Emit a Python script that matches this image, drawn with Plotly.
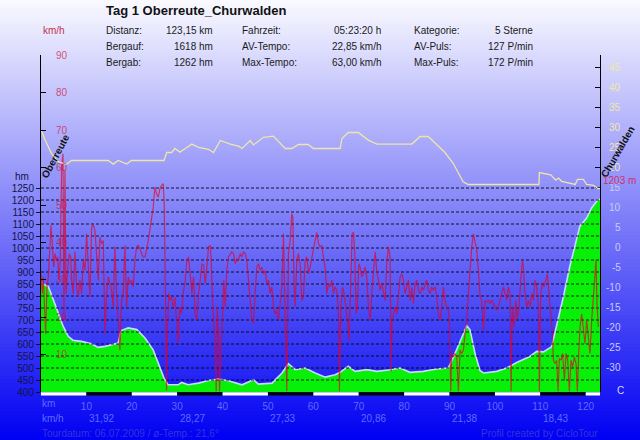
import plotly.graph_objects as go

# ---------------- data ----------------
title = "Tag 1 Oberreute_Churwalden"
info_c1_lab = ["Distanz:", "Bergauf:", "Bergab:"]
info_c1_val = ["123,15 km", "1618 hm", "1262 hm"]
info_c2_lab = ["Fahrzeit:", "AV-Tempo:", "Max-Tempo:"]
info_c2_val = ["05:23:20 h", "22,85 km/h", "63,00 km/h"]
info_c3_lab = ["Kategorie:", "AV-Puls:", "Max-Puls:"]
info_c3_val = ["5 Sterne", "127 P/min", "172 P/min"]

total_km = 123.15
start_name = "Oberreute"
end_name = "Churwalden"

elev_km = [0, 1.6, 2.7, 3.8, 4.9, 6.0, 7.1, 8.9, 11.1, 12.6, 14.1, 17.0, 17.4, 17.8, 19.2,
           21.1, 22.9, 24.7, 26.2, 27.1, 28.0, 30.2, 31.0, 32.4, 34.7, 36.9, 39.1, 41.3,
           44.3, 46.8, 47.9, 50.9, 53.1, 54.5, 56.0, 58.2, 60.4, 62.6, 64.8, 65.9, 67.7,
           69.2, 71.8, 74.0, 76.9, 79.1, 81.3, 84.2, 87.2, 89.7, 90.8, 92.3, 93.8, 94.5,
           95.6, 96.7, 97.5, 100.4, 102.6, 104.8, 107.7, 109.2, 110.7, 112.5, 113.6, 115.1,
           116.5, 118.0, 118.7, 120.2, 121.3, 122.7, 123.15]
elev_m = [854, 840, 785, 729, 673, 632, 615, 611, 601, 586, 590, 604, 640, 657, 667,
          660, 625, 576, 507, 458, 430, 430, 440, 430, 437, 448, 454, 447,
          430, 451, 433, 437, 479, 518, 493, 500, 479, 462, 472, 482, 507,
          486, 493, 486, 493, 500, 482, 486, 496, 500, 542, 611, 676, 660,
          562, 490, 479, 486, 500, 523, 548, 569, 567, 589, 673, 798,
          923, 1035, 1090, 1125, 1167, 1201, 1203]

temp_km = [0, 0.9, 2.3, 3.8, 5.6, 6.7, 14.8, 15.9, 17.0, 18.9, 19.9, 27.1, 27.7, 28.8, 29.5,
           30.6, 31.8, 33.2, 34.7, 36.9, 38.0, 39.5, 41.7, 43.5, 44.3, 46.1, 46.8, 49.0,
           51.2, 53.8, 55.3, 56.7, 58.9, 60.0, 65.9, 66.3, 67.7, 69.9, 72.1, 74.0, 81.7,
           83.5, 85.3, 87.2, 89.0, 90.8, 91.9, 93.0, 94.1, 109.7, 109.8, 112.3, 113.4,
           114.0, 114.7, 117.7, 118.2, 119.5, 120.2, 121.7, 122.7, 123.15]
temp_c = [29.4, 26.9, 23.6, 21.5, 20.8, 21.8, 21.8, 20.9, 21.8, 20.9, 21.8, 21.8, 23.8, 23.8, 24.8,
          23.9, 24.8, 25.9, 25.1, 24.6, 23.8, 26.8, 25.9, 25.4, 24.8, 26.8, 25.7, 27.6,
          27.9, 24.8, 24.8, 25.8, 25.8, 24.8, 24.8, 27.3, 28.8, 28.8, 26.9, 25.9, 25.9,
          27.8, 27.8, 25.7, 23.8, 21.1, 18.6, 16.5, 15.8, 15.8, 18.8, 18.2, 16.9,
          17.4, 16.6, 15.8, 17.1, 17.1, 15.8, 15.6, 14.8, 14.8]

# (km, km/h) samples of the speed trace
speed_points = [
    (0.0, 31.6), (0.29, 26.3), (0.51, 30.8), (0.73, 22.7), (1.02, 15.6), (1.31, 28.1), (1.61, 30.8),
    (1.97, 38.8), (2.19, 44.6), (2.49, 39.7), (2.78, 33.4), (3.08, 37.0), (3.37, 35.2), (3.66, 36.1),
    (3.96, 29.9), (4.25, 35.2), (4.54, 60.2), (4.84, 63.7), (5.06, 19.2), (5.28, 59.3), (5.50, 26.3),
    (5.86, 32.5), (6.23, 37.0), (6.52, 36.1), (6.75, 29.9), (7.11, 26.3), (7.48, 37.5), (7.85, 28.1),
    (8.21, 25.4), (8.58, 29.9), (8.95, 26.3), (9.31, 35.2), (9.68, 32.5), (10.05, 42.3), (10.41, 35.2),
    (10.78, 25.4), (11.15, 44.1), (11.52, 44.6), (11.88, 43.2), (12.25, 35.2), (12.62, 29.9),
    (12.98, 41.4), (13.35, 39.7), (13.72, 40.5), (14.08, 15.6), (14.45, 26.3), (14.82, 30.8),
    (15.19, 29.0), (15.55, 27.2), (15.92, 22.7), (16.29, 38.8), (16.65, 26.3), (17.02, 19.2),
    (17.39, 11.2), (17.75, 24.5), (18.12, 26.3), (18.49, 39.2), (18.85, 22.7), (19.22, 30.8),
    (19.59, 29.0), (19.96, 29.9), (20.32, 28.1), (20.69, 35.2), (21.06, 38.8), (21.42, 39.2),
    (21.79, 38.4), (22.16, 37.0), (22.52, 36.1), (22.89, 36.1), (23.26, 37.9), (23.62, 40.5),
    (23.99, 43.2), (24.36, 45.9), (24.73, 49.4), (25.09, 54.8), (25.46, 53.0), (25.83, 52.1),
    (26.19, 54.3), (26.56, 55.2), (26.93, 55.7), (27.15, 50.3), (27.44, 28.1), (27.66, 0.5),
    (27.88, 17.4), (28.17, 26.3), (28.47, 24.5), (28.76, 25.4), (29.13, 22.7), (29.49, 25.4),
    (29.86, 19.2), (30.23, 12.9), (30.59, 22.7), (30.96, 20.9), (31.33, 26.3),
    (31.77, 29.9), (32.14, 35.2), (32.51, 36.1), (32.87, 31.6), (33.24, 26.3), (33.61, 30.8),
    (33.97, 20.9), (34.34, 19.2), (34.71, 26.3), (35.08, 29.9), (35.44, 34.3), (35.81, 33.9),
    (36.17, 29.0), (36.54, 33.4), (36.91, 38.8), (37.27, 39.2), (37.49, 35.2), (37.79, 24.5),
    (38.08, 19.2), (38.38, 12.0), (38.60, 0.2), (38.82, 22.7), (39.11, 14.7), (39.33, 0.2),
    (39.62, 8.5), (39.99, 22.7), (40.28, 29.9), (40.58, 22.7), (40.94, 32.5), (41.31, 36.1),
    (41.68, 37.0), (42.04, 37.5), (42.41, 37.0), (42.78, 34.3), (43.15, 35.6), (43.51, 35.2),
    (43.88, 37.0), (44.25, 36.1), (44.61, 37.5), (44.98, 37.0), (45.35, 35.2), (45.71, 30.8),
    (46.08, 24.5), (46.45, 19.2), (46.81, 18.3), (47.18, 26.3), (47.55, 33.4), (47.92, 34.3),
    (48.28, 32.5), (48.65, 33.4), (49.02, 31.6), (49.38, 32.5), (49.75, 29.0), (50.12, 29.9),
    (50.48, 26.3), (50.85, 28.1), (51.22, 22.7), (51.59, 20.9), (51.95, 21.8), (52.32, 19.2),
    (52.69, 24.5), (53.05, 28.1), (53.42, 42.3), (53.79, 19.2), (54.15, 0.2), (54.52, 37.0),
    (54.89, 40.5), (55.26, 47.7), (55.48, 46.8), (55.77, 28.1), (55.99, 22.7), (56.36, 35.2),
    (56.72, 37.0), (57.09, 34.3), (57.46, 24.5), (57.82, 25.4), (58.19, 35.2), (58.56, 36.1),
    (58.93, 31.6), (59.29, 33.4), (59.66, 36.1), (60.03, 38.8), (60.39, 40.5), (60.76, 42.7),
    (61.13, 39.7), (61.49, 38.8), (61.86, 39.2), (62.23, 36.1), (62.59, 33.4), (62.96, 26.3),
    (63.33, 29.0),
    (63.70, 28.1), (64.07, 29.9), (64.43, 26.3), (64.80, 28.1), (65.17, 27.2), (65.53, 20.9),
    (65.75, 0.2), (66.05, 22.7), (66.42, 28.1), (66.78, 26.3), (67.15, 22.7), (67.52, 19.2),
    (67.88, 13.8), (68.25, 34.3), (68.54, 42.3), (68.84, 42.7), (69.13, 37.0), (69.42, 20.9),
    (69.72, 22.7), (70.01, 34.3), (70.31, 33.4), (70.67, 30.8), (71.04, 31.6), (71.41, 33.4),
    (71.77, 30.8), (72.14, 22.7), (72.51, 19.2), (72.87, 26.3), (73.24, 33.4), (73.61, 37.5),
    (73.97, 32.5), (74.34, 29.9), (74.71, 27.2), (75.08, 29.0), (75.44, 26.3), (75.81, 24.5),
    (76.18, 34.3), (76.54, 38.8), (76.91, 36.1), (77.13, 5.5), (77.35, 19.2), (77.64, 20.9),
    (78.01, 22.7), (78.38, 20.9), (78.74, 25.4), (79.11, 30.8), (79.48, 31.6), (79.85, 29.9),
    (80.21, 26.3), (80.58, 28.1), (80.95, 29.9), (81.31, 24.5), (81.68, 28.1), (82.05, 23.6),
    (82.41, 29.0), (82.78, 29.9), (83.15, 27.2), (83.52, 26.3), (83.88, 28.1), (84.25, 27.2),
    (84.62, 29.0), (84.98, 29.9), (85.35, 27.2), (85.72, 26.3), (86.08, 28.1), (86.45, 27.2),
    (86.82, 28.1), (87.18, 25.4), (87.55, 20.9), (87.92, 19.2), (88.29, 22.7), (88.65, 28.1),
    (89.02, 24.5), (89.39, 22.7), (89.75, 21.8), (89.97, 19.2), (90.27, 0.2), (90.49, 10.3),
    (90.85, 9.4), (91.22, 10.3), (91.59, 9.4), (91.96, 0.2), (92.32, 11.2), (92.69, 10.3),
    (93.06, 11.2), (93.42, 15.6), (93.79, 19.2), (94.16, 26.3),
    (94.53, 33.4), (94.90, 38.8), (95.26, 42.3), (95.63, 40.5), (96.00, 37.9), (96.36, 32.5),
    (96.73, 25.4), (97.10, 24.5), (97.47, 16.5), (97.83, 24.5), (98.20, 24.1), (98.57, 24.5),
    (98.93, 23.6), (99.30, 24.5), (99.67, 23.6), (100.03, 22.7), (100.40, 21.8), (100.77, 22.7),
    (101.14, 24.5), (101.50, 26.3), (101.87, 28.1), (102.24, 26.3), (102.60, 24.5), (102.97, 28.1),
    (103.34, 26.3), (103.56, 0.2), (103.85, 22.7), (104.22, 17.4), (104.58, 24.5), (104.95, 19.2),
    (105.32, 22.7), (105.69, 29.9), (106.05, 35.2), (106.27, 33.4), (106.64, 26.3), (107.01, 22.7),
    (107.37, 24.5), (107.74, 22.7), (108.11, 26.3), (108.47, 24.5), (108.84, 29.9), (109.21, 28.1),
    (109.57, 22.7), (109.80, 0.2), (110.09, 26.3), (110.46, 29.0), (110.82, 28.1), (111.19, 29.9),
    (111.56, 31.6), (111.92, 26.3), (112.29, 20.9), (112.66, 15.6), (112.88, 8.5), (113.24, 7.6),
    (113.61, 8.5), (113.91, 0.2), (114.20, 9.0), (114.57, 8.5), (114.93, 10.3), (115.30, 3.1),
    (115.67, 10.3), (116.03, 8.5), (116.40, 0.2), (116.77, 8.5), (117.13, 6.7), (117.50, 9.4),
    (117.87, 7.6), (118.16, 0.2), (118.46, 10.3), (118.75, 17.4), (119.12, 20.9), (119.48, 17.4),
    (119.85, 12.9), (120.22, 19.2), (120.58, 15.6), (120.95, 10.3), (121.32, 19.2), (121.69, 26.3),
    (122.05, 31.6), (122.27, 35.2), (122.49, 23.6), (122.79, 17.4),
]
speed_km = [p[0] for p in speed_points]
speed_kmh = [p[1] for p in speed_points]

km_ticks = [10, 20, 30, 40, 50, 60, 70, 80, 90, 100, 110, 120]
segment_centers = [13.3, 33.3, 53.3, 73.3, 93.3, 113.3]
segment_avg = ["31,92", "28,27", "27,33", "20,86", "21,38", "18,43"]
elev_ticks = list(range(400, 1251, 50))
speed_ticks = [10, 20, 30, 40, 50, 60, 70, 80, 90]
temp_ticks = [-30, -25, -20, -15, -10, -5, 0, 5, 10, 15, 20, 25, 30, 35, 40, 45]
footer_left = "Tourdatum: 06.07.2009 / ø-Temp.: 21,6°"
footer_right = "Profil created by CicloTour"

# ---------------- figure ----------------
W, H = 640, 440
ML, MR, MT, MB = 41, 40, 55, 48
PW, PH = W - ML - MR, H - MT - MB
FONT = "Arial, Liberation Sans, sans-serif"


def px_x(px):
    return (px - ML) / PW


def px_y(py):
    return (H - MB - py) / PH


fig = go.Figure()

# elevation profile
fig.add_trace(go.Scatter(x=elev_km, y=elev_m, mode="lines", fill="tozeroy",
                         fillcolor="#08f008", line=dict(color="#c8d8ff", width=1.6),
                         yaxis="y", hoverinfo="skip"))
# dashed elevation grid (drawn above the fill)
gx, gy = [], []
for h in elev_ticks[1:]:
    gx += [0, total_km, None]
    gy += [h, h, None]
fig.add_trace(go.Scatter(x=gx, y=gy, mode="lines", yaxis="y", hoverinfo="skip",
                         line=dict(color="rgba(0,0,0,0.85)", width=1, dash="3px,2px")))
# speed
fig.add_trace(go.Scatter(x=speed_km, y=speed_kmh, mode="lines", yaxis="y2", hoverinfo="skip",
                         line=dict(color="rgba(228,0,40,0.68)", width=1.2)))
# temperature
fig.add_trace(go.Scatter(x=temp_km, y=temp_c, mode="lines", yaxis="y3", hoverinfo="skip",
                         line=dict(color="#ece6a8", width=1.3)))

shapes = []
# background gradient strips
step = 4
for py in range(0, H, step):
    t = (py + step / 2) / H
    c = int(round(250 * (1 - t)))
    b = int(round(255 - 12 * t))
    shapes.append(dict(type="rect", xref="paper", yref="paper", layer="below",
                       x0=px_x(-2), x1=px_x(W + 2), y0=px_y(py + step + 0.5), y1=px_y(py - 0.5),
                       line=dict(width=0), fillcolor=f"rgb({c},{c},{b})"))
# km scale bar
marks = [0] + km_ticks + [total_km]
for i in range(len(marks) - 1):
    shapes.append(dict(type="rect", xref="x", yref="paper", layer="above",
                       x0=marks[i], x1=marks[i + 1], y0=px_y(395.5), y1=px_y(392.3),
                       line=dict(width=0), fillcolor="white" if i % 2 == 0 else "black"))

ann = []
ann.append(dict(x=px_x(104), y=px_y(11), xref="paper", yref="paper", text=f"<b>{title}</b>",
                showarrow=False, xanchor="left", yanchor="middle",
                font=dict(family=FONT, size=13, color="#111111")))
rows_y = [30.5, 46.5, 62.5]
cols = [(info_c1_lab, 104, "left"), (info_c1_val, 215, "right"),
        (info_c2_lab, 240, "left"), (info_c2_val, 383, "right"),
        (info_c3_lab, 412, "left"), (info_c3_val, 535, "right")]
for texts, xp, anchor in cols:
    for t, yp in zip(texts, rows_y):
        ann.append(dict(x=px_x(xp), y=px_y(yp), xref="paper", yref="paper", text=t,
                        showarrow=False, xanchor=anchor, yanchor="middle",
                        font=dict(family=FONT, size=10, color="#1a1a1a")))
ann.append(dict(x=px_x(41), y=px_y(30.5), xref="paper", yref="paper", text="km/h",
                showarrow=False, xanchor="left", yanchor="middle",
                font=dict(family=FONT, size=10, color="#c23050")))
for v in speed_ticks:
    ann.append(dict(x=px_x(62), y=v, xref="paper", yref="y2", text=str(v), showarrow=False,
                    xanchor="center", yanchor="middle",
                    font=dict(family=FONT, size=10, color="rgba(205,20,60,0.72)")))
ann.append(dict(x=px_x(22), y=px_y(176), xref="paper", yref="paper", text="hm",
                showarrow=False, xanchor="center", yanchor="middle",
                font=dict(family=FONT, size=10, color="#14144a")))
for tv in temp_ticks:
    col = "#efe8a8" if tv >= 20 else "#cacaf8"
    ann.append(dict(x=px_x(623), y=tv, xref="paper", yref="y3", text=str(tv), showarrow=False,
                    xanchor="right", yanchor="middle",
                    font=dict(family=FONT, size=10, color=col)))
ann.append(dict(x=px_x(620), y=px_y(390), xref="paper", yref="paper", text="C",
                showarrow=False, xanchor="center", yanchor="middle",
                font=dict(family=FONT, size=10, color="#d8d8ff")))
ann.append(dict(x=px_x(55), y=px_y(156), xref="paper", yref="paper", text=f"<b>{start_name}</b>",
                showarrow=False, textangle=-62, xanchor="center", yanchor="middle",
                font=dict(family=FONT, size=10, color="#111111")))
ann.append(dict(x=px_x(617), y=px_y(152), xref="paper", yref="paper", text=f"<b>{end_name}</b>",
                showarrow=False, textangle=-60, xanchor="center", yanchor="middle",
                font=dict(family=FONT, size=10, color="#111111")))
ann.append(dict(x=px_x(601), y=elev_m[-1], xref="paper", yref="y", yshift=19,
                text=f"{elev_m[-1]} m", showarrow=False, xanchor="left", yanchor="middle",
                font=dict(family=FONT, size=10, color="rgba(215,30,80,0.9)")))
# bottom rows
ann.append(dict(x=px_x(40), y=px_y(404), xref="paper", yref="paper", text="km",
                showarrow=False, xanchor="left", yanchor="middle",
                font=dict(family=FONT, size=10, color="#5c6cff")))
ann.append(dict(x=px_x(40), y=px_y(418), xref="paper", yref="paper", text="km/h",
                showarrow=False, xanchor="left", yanchor="middle",
                font=dict(family=FONT, size=10, color="#5c6cff")))
for kc, s in zip(segment_centers, segment_avg):
    ann.append(dict(x=kc, y=px_y(418), xref="x", yref="paper", text=s, showarrow=False,
                    xanchor="center", yanchor="middle",
                    font=dict(family=FONT, size=10, color="#5c6cff")))
ann.append(dict(x=px_x(40), y=px_y(433), xref="paper", yref="paper", text=footer_left,
                showarrow=False, xanchor="left", yanchor="middle",
                font=dict(family=FONT, size=10, color="#3434dc")))
ann.append(dict(x=px_x(600), y=px_y(433), xref="paper", yref="paper", text=footer_right,
                showarrow=False, xanchor="right", yanchor="middle",
                font=dict(family=FONT, size=10, color="#3434dc")))

elev_top = 400 + PH / 0.24
fig.update_layout(
    width=W, height=H, autosize=False,
    margin=dict(l=ML, r=MR, t=MT, b=MB, pad=0),
    paper_bgcolor="#8080f8", plot_bgcolor="rgba(0,0,0,0)",
    showlegend=False,
    font=dict(family=FONT, size=10),
    xaxis=dict(range=[0, total_km], tickvals=km_ticks, ticks="outside", ticklen=5,
               tickcolor="rgba(0,0,0,0)", tickfont=dict(size=10, color="#5c6cff"),
               showgrid=False, zeroline=False, showline=False, fixedrange=True),
    yaxis=dict(range=[400, elev_top], tickvals=elev_ticks, ticks="outside", ticklen=4,
               tickcolor="#111133", tickfont=dict(size=10, color="#14144a"),
               showgrid=False, zeroline=False, showline=False, fixedrange=True),
    yaxis2=dict(range=[0, PH / 3.74], overlaying="y", side="left", tickvals=speed_ticks,
                ticks="inside", ticklen=5, tickcolor="black", showticklabels=False,
                showline=True, linecolor="black", linewidth=1,
                showgrid=False, zeroline=False, fixedrange=True),
    yaxis3=dict(range=[(247.7 - (H - MB)) / 4, (247.7 - MT) / 4], overlaying="y", side="right",
                tickvals=temp_ticks, ticks="inside", ticklen=5, tickcolor="black",
                showticklabels=False, showline=True, linecolor="black", linewidth=1,
                layer="below traces", showgrid=False, zeroline=False, fixedrange=True),
    shapes=shapes,
    annotations=ann,
)

fig.write_html("out.html")
